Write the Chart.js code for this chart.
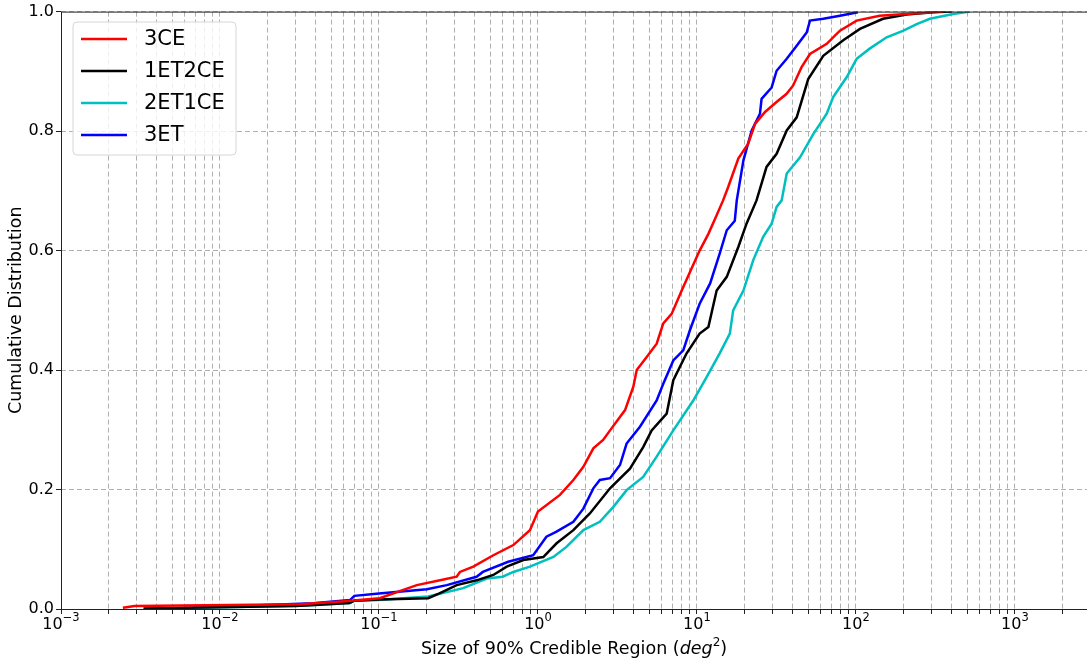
<!DOCTYPE html>
<html>
<head>
<meta charset="utf-8">
<script src="https://cdn.jsdelivr.net/npm/chart.js@4/dist/chart.umd.min.js"></script>
<style>
  html, body { margin: 0; padding: 0; background: #fff; }
  #wrap { width: 1087px; height: 661px; position: relative; }
</style>
</head>
<body>
<div id="wrap"><canvas id="cdf"></canvas></div>
<script>
// credible-region sizes (deg^2) and cumulative fraction for each network
const ce3X = [0.00245, 0.0029, 0.032, 0.061, 0.101, 0.173, 0.242, 0.308, 0.323, 0.392, 0.524, 0.70, 0.89, 1.0, 1.375, 1.67, 1.93, 2.23, 2.57, 2.84, 3.53, 3.98, 4.18, 4.83, 5.58, 6.14, 6.93, 8.02, 9.04, 10.4, 11.8, 13.3, 14.6, 15.7, 18.2, 21.0, 23.2, 26.8, 31.8, 36.5, 40.2, 45.5, 51.4, 65.5, 79.3, 101, 141, 229, 352];
const ce3Y = [0.002, 0.005, 0.008, 0.013, 0.018, 0.040, 0.048, 0.054, 0.062, 0.071, 0.090, 0.107, 0.132, 0.163, 0.191, 0.216, 0.238, 0.269, 0.283, 0.299, 0.333, 0.372, 0.400, 0.422, 0.444, 0.478, 0.494, 0.533, 0.564, 0.600, 0.628, 0.659, 0.684, 0.706, 0.754, 0.779, 0.812, 0.832, 0.849, 0.862, 0.876, 0.907, 0.929, 0.946, 0.968, 0.985, 0.993, 0.997, 1.0];

const et1ce2X = [0.0033, 0.03, 0.065, 0.07, 0.1, 0.204, 0.24, 0.308, 0.411, 0.524, 0.636, 0.809, 1.08, 1.31, 1.67, 2.12, 2.84, 3.79, 4.59, 5.19, 6.45, 7.1, 8.61, 10.4, 11.8, 13.3, 15.4, 18.2, 20.5, 23.7, 27.4, 31.7, 36.7, 42.4, 50.1, 62.3, 83.2, 106, 148, 208, 306, 400];
const et1ce2Y = [0.001, 0.005, 0.010, 0.014, 0.016, 0.018, 0.026, 0.040, 0.048, 0.057, 0.071, 0.082, 0.087, 0.110, 0.132, 0.160, 0.202, 0.235, 0.271, 0.299, 0.327, 0.383, 0.428, 0.461, 0.472, 0.533, 0.556, 0.606, 0.645, 0.684, 0.740, 0.762, 0.801, 0.823, 0.887, 0.926, 0.952, 0.971, 0.988, 0.995, 0.999, 1.0];

const et2ce1X = [0.005, 0.035, 0.066, 0.07, 0.1, 0.204, 0.339, 0.476, 0.60, 0.70, 0.89, 1.25, 1.51, 1.93, 2.45, 2.98, 3.61, 4.59, 5.58, 7.1, 9.48, 11.5, 13.9, 16.1, 16.9, 19.6, 22.6, 26.1, 29.5, 31.7, 34.1, 36.7, 44.5, 53.9, 65.5, 71.9, 87.4, 101, 122, 156, 199, 241, 292, 409, 521];
const et2ce1Y = [0.001, 0.006, 0.010, 0.014, 0.015, 0.021, 0.035, 0.051, 0.054, 0.062, 0.071, 0.087, 0.104, 0.132, 0.146, 0.171, 0.199, 0.221, 0.255, 0.299, 0.349, 0.388, 0.428, 0.461, 0.500, 0.533, 0.584, 0.623, 0.645, 0.673, 0.684, 0.729, 0.756, 0.795, 0.829, 0.857, 0.890, 0.921, 0.938, 0.957, 0.968, 0.979, 0.988, 0.996, 1.0];

const et3X = [0.00485, 0.0386, 0.0657, 0.07, 0.1, 0.2, 0.267, 0.411, 0.45, 0.65, 0.934, 1.13, 1.3, 1.67, 1.93, 2.23, 2.45, 2.84, 3.28, 3.61, 4.38, 5.58, 6.14, 7.1, 8.2, 9.04, 10.4, 12.1, 13.9, 15.4, 17.3, 17.8, 19.6, 22.1, 24.9, 25.5, 29.5, 31.7, 36.7, 42.4, 49, 51.4, 62.3, 79.3, 103];
const et3Y = [0.001, 0.0095, 0.015, 0.022, 0.026, 0.033, 0.040, 0.054, 0.062, 0.079, 0.090, 0.121, 0.129, 0.146, 0.168, 0.202, 0.216, 0.219, 0.241, 0.277, 0.305, 0.349, 0.377, 0.416, 0.433, 0.467, 0.511, 0.545, 0.595, 0.634, 0.650, 0.684, 0.751, 0.801, 0.829, 0.854, 0.873, 0.901, 0.921, 0.943, 0.965, 0.985, 0.988, 0.993, 0.999];

const seriesNames = ['3CE', '1ET2CE', '2ET1CE', '3ET'];
const seriesColors = ['#ff0000', '#000000', '#00bfbf', '#0000ff'];

// decade ticks: mantissa text and exponent text
const xDecades = [0.001, 0.01, 0.1, 1, 10, 100, 1000];
const xTickBase = '10';
const xTickExps = ['\u22123', '\u22122', '\u22121', '0', '1', '2', '3'];
const xMin = 0.001, xMax = 2840;

const toPoints = (xs, ys) => xs.map((x, i) => ({ x: x, y: ys[i] }));
const seriesData = [
  toPoints(ce3X, ce3Y),
  toPoints(et1ce2X, et1ce2Y),
  toPoints(et2ce1X, et2ce1Y),
  toPoints(et3X, et3Y)
];

const FONT = "'DejaVu Sans', sans-serif";
Chart.defaults.font.family = FONT;
Chart.defaults.color = '#000';

// frame, power-of-ten tick labels, axis titles and an in-axes legend
const decorations = {
  id: 'decorations',
  afterDraw(chart) {
    const ctx = chart.ctx;
    const a = chart.chartArea;
    const xs = chart.scales.x;
    ctx.save();

    ctx.strokeStyle = '#222';
    ctx.lineWidth = 1;
    ctx.strokeRect(a.left + 0.5, a.top + 0.5, a.right - a.left, a.bottom - a.top);

    // 10^n labels under the decade ticks
    ctx.fillStyle = '#000';
    ctx.textBaseline = 'alphabetic';
    ctx.textAlign = 'left';
    xDecades.forEach((d, i) => {
      const px = xs.getPixelForValue(d);
      ctx.font = '16px ' + FONT;
      const wb = ctx.measureText(xTickBase).width;
      ctx.font = '11.5px ' + FONT;
      const we = ctx.measureText(xTickExps[i]).width;
      const x0 = px - (wb + we) / 2;
      ctx.font = '16px ' + FONT;
      ctx.fillText(xTickBase, x0, 629);
      ctx.font = '11.5px ' + FONT;
      ctx.fillText(xTickExps[i], x0 + wb, 621);
    });

    // x title with italic math part
    const parts = [
      { t: 'Size of 90% Credible Region (', f: '17.5px ' + FONT, dy: 0 },
      { t: 'deg', f: 'italic 17.5px ' + FONT, dy: 0 },
      { t: '2', f: '12px ' + FONT, dy: -8 },
      { t: ')', f: '17.5px ' + FONT, dy: 0 }
    ];
    let total = 0;
    parts.forEach(p => { ctx.font = p.f; p.w = ctx.measureText(p.t).width; total += p.w; });
    let x = (a.left + a.right) / 2 - total / 2;
    const baseY = 654;
    parts.forEach(p => { ctx.font = p.f; ctx.fillText(p.t, x, baseY + p.dy); x += p.w; });

    // y title
    ctx.save();
    ctx.translate(16, (a.top + a.bottom) / 2);
    ctx.rotate(-Math.PI / 2);
    ctx.font = '17.5px ' + FONT;
    ctx.textAlign = 'center';
    ctx.textBaseline = 'middle';
    ctx.fillText('Cumulative Distribution', 0, 0);
    ctx.restore();

    // legend box
    const lx = 73, ly = 22, lw = 163, lh = 133, r = 4;
    ctx.beginPath();
    ctx.moveTo(lx + r, ly);
    ctx.arcTo(lx + lw, ly, lx + lw, ly + lh, r);
    ctx.arcTo(lx + lw, ly + lh, lx, ly + lh, r);
    ctx.arcTo(lx, ly + lh, lx, ly, r);
    ctx.arcTo(lx, ly, lx + lw, ly, r);
    ctx.closePath();
    ctx.fillStyle = 'rgba(255,255,255,0.8)';
    ctx.fill();
    ctx.strokeStyle = '#d6d6d6';
    ctx.lineWidth = 1;
    ctx.stroke();

    chart.data.datasets.forEach((ds, i) => {
      const yy = 39 + i * 32;
      ctx.strokeStyle = ds.borderColor;
      ctx.lineWidth = 2.5;
      ctx.beginPath();
      ctx.moveTo(81, yy);
      ctx.lineTo(127, yy);
      ctx.stroke();
      ctx.fillStyle = '#000';
      ctx.font = '21px ' + FONT;
      ctx.textAlign = 'left';
      ctx.textBaseline = 'middle';
      ctx.fillText(ds.label, 144, yy + 1);
    });

    ctx.restore();
  }
};

new Chart(document.getElementById('cdf'), {
  type: 'line',
  data: {
    datasets: seriesNames.map((name, i) => ({
      label: name,
      data: seriesData[i],
      borderColor: seriesColors[i],
      backgroundColor: seriesColors[i],
      borderWidth: 2.5,
      pointRadius: 0,
      tension: 0,
      fill: false
    }))
  },
  options: {
    responsive: true,
    maintainAspectRatio: false,
    animation: false,
    layout: { padding: { top: 11, right: 0, left: 0, bottom: 0 } },
    plugins: {
      legend: { display: false },
      tooltip: { enabled: false }
    },
    scales: {
      x: {
        type: 'logarithmic',
        min: xMin,
        max: xMax,
        afterBuildTicks(scale) {
          const ticks = [];
          xDecades.forEach(d => {
            for (let m = 1; m <= 9; m++) {
              const v = d * m;
              if (v >= xMin && v <= xMax) ticks.push({ value: v });
            }
          });
          scale.ticks = ticks;
        },
        afterFit(scale) { scale.height = 52; },
        grid: {
          color: '#b0b0b0',
          lineWidth: 1,
          drawTicks: true,
          tickLength: 5,
          tickColor: '#222',
          tickWidth: 1
        },
        border: { display: false, dash: [5, 3] },
        ticks: {
          autoSkip: false,
          maxRotation: 0,
          padding: 1,
          font: { size: 16 },
          callback: () => ''
        }
      },
      y: {
        type: 'linear',
        min: 0,
        max: 1,
        afterFit(scale) { scale.width = 61; },
        grid: {
          color: '#b0b0b0',
          lineWidth: 1,
          drawTicks: true,
          tickLength: 5,
          tickColor: '#222',
          tickWidth: 1
        },
        border: { display: false, dash: [5, 3] },
        ticks: {
          stepSize: 0.2,
          padding: 2,
          font: { size: 16 },
          callback: v => v.toFixed(1)
        }
      }
    }
  },
  plugins: [decorations]
});
</script>
</body>
</html>
